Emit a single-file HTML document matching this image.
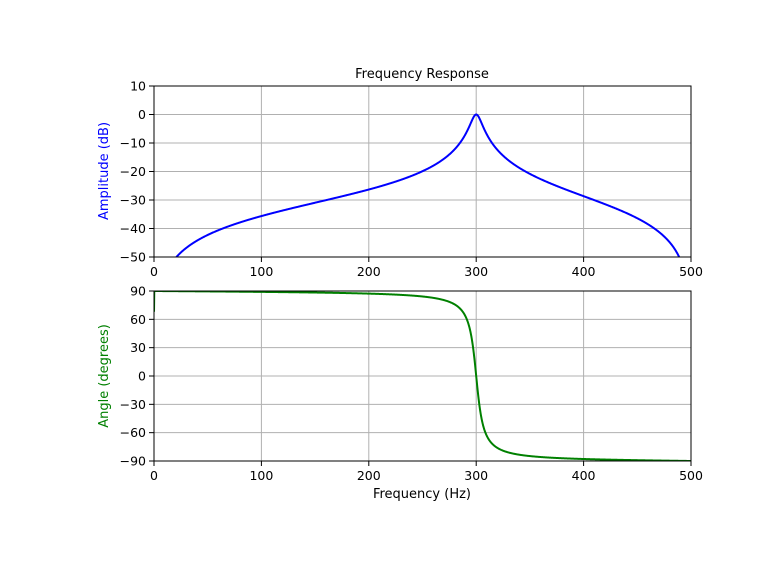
<!DOCTYPE html>
<html><head><meta charset="utf-8"><style>
html,body{margin:0;padding:0;background:#fff;overflow:hidden;width:768px;height:576px;}
svg{display:block;font-family:"DejaVu Sans","Liberation Sans",sans-serif;}
</style></head><body>
<svg id="s" width="768" height="576" viewBox="0 0 768 576" xmlns="http://www.w3.org/2000/svg">
<rect width="768" height="576" fill="#fff"/>
<defs>
<clipPath id="c1"><rect x="154" y="86" width="537" height="171"/></clipPath>
<clipPath id="c2"><rect x="154" y="291" width="537" height="170"/></clipPath>
</defs>
<g id="grid" stroke="#b0b0b0" stroke-width="1"></g>
<path id="p1" fill="none" stroke="#0000ff" stroke-width="2" clip-path="url(#c1)"/>
<path id="p2" fill="none" stroke="#008000" stroke-width="2" clip-path="url(#c2)"/>
<rect x="154" y="86" width="537" height="171" fill="none" stroke="#000" stroke-width="1"/>
<rect x="154" y="291" width="537" height="170" fill="none" stroke="#000" stroke-width="1"/>
<g id="ticks" stroke="#000" stroke-width="1"></g>
<g id="labels" font-size="12.5" fill="#000"></g>
<text x="422" y="78" font-size="13" text-anchor="middle">Frequency Response</text>
<text x="422" y="498" font-size="13" text-anchor="middle">Frequency (Hz)</text>
<text transform="translate(108,171) rotate(-90)" font-size="13" text-anchor="middle" fill="#0000ff">Amplitude (dB)</text>
<text transform="translate(108,376) rotate(-90)" font-size="13" text-anchor="middle" fill="#008000">Angle (degrees)</text>
</svg>
<script>
var NS="http://www.w3.org/2000/svg";
function el(p,t,a,txt){var e=document.createElementNS(NS,t);for(var k in a)e.setAttribute(k,a[k]);if(txt!==undefined)e.textContent=txt;document.getElementById(p).appendChild(e);}
function X(f){return 154+f*537/500;}
function Y1(d){return 86+(10-d)*171/60;}
function Y2(d){return 291+(90-d)*170/180;}
var minus="\u2212";
function fmt(v){return v<0?minus+(-v):""+v;}
for(var f=0;f<=500;f+=100){
  var x=X(f);
  el("grid","line",{x1:x,x2:x,y1:86,y2:257});
  el("grid","line",{x1:x,x2:x,y1:291,y2:461});
  el("ticks","line",{x1:x,x2:x,y1:257,y2:262});
  el("ticks","line",{x1:x,x2:x,y1:461,y2:466});
  el("labels","text",{x:x,y:276,"text-anchor":"middle"},""+f);
  el("labels","text",{x:x,y:480,"text-anchor":"middle"},""+f);
}
for(var d=10;d>=-50;d-=10){
  var y=Y1(d);
  el("grid","line",{x1:154,x2:691,y1:y,y2:y});
  el("ticks","line",{x1:149,x2:154,y1:y,y2:y});
  el("labels","text",{x:146,y:y+4.5,"text-anchor":"end"},fmt(d));
}
for(var d=90;d>=-90;d-=30){
  var y=Y2(d);
  el("grid","line",{x1:154,x2:691,y1:y,y2:y});
  el("ticks","line",{x1:149,x2:154,y1:y,y2:y});
  el("labels","text",{x:146,y:y+4.5,"text-anchor":"end"},fmt(d));
}
var w0=2*Math.PI*300/1000,bw=w0/30,beta=Math.tan(bw/2),g=1/(1+beta);
var b0=1-g,b2=-(1-g),a1=-2*g*Math.cos(w0),a2=2*g-1;
var s1="",s2="",N=2000,prev=null,off=0;
for(var i=0;i<N;i++){
  var f=i*500/N,w=2*Math.PI*f/1000;
  var c1=Math.cos(w),sn1=Math.sin(w),c2=Math.cos(2*w),sn2=Math.sin(2*w);
  var nr=b0+b2*c2,ni=-b2*sn2;
  var dr=1+a1*c1+a2*c2,di=-a1*sn1-a2*sn2;
  var den=dr*dr+di*di;
  var hr=(nr*dr+ni*di)/den,hi=(ni*dr-nr*di)/den;
  var mag=Math.sqrt(hr*hr+hi*hi);
  var db=20*Math.log10(Math.max(mag,1e-12));
  var ph=Math.atan2(hi,hr);
  var deg;
  if(i==0){deg=68;}
  else{ if(prev!==null){var dd=ph+off-prev;if(dd>Math.PI)off-=2*Math.PI;else if(dd<-Math.PI)off+=2*Math.PI;} prev=ph+off; deg=(ph+off)*180/Math.PI;}
  s1+=(i?"L":"M")+X(f).toFixed(2)+","+Math.min(Math.max(Y1(db),-1000),1000).toFixed(2);
  s2+=(i?"L":"M")+X(f).toFixed(2)+","+Y2(deg).toFixed(2);
}
document.getElementById("p1").setAttribute("d",s1);
document.getElementById("p2").setAttribute("d",s2);
</script>
</body></html>
